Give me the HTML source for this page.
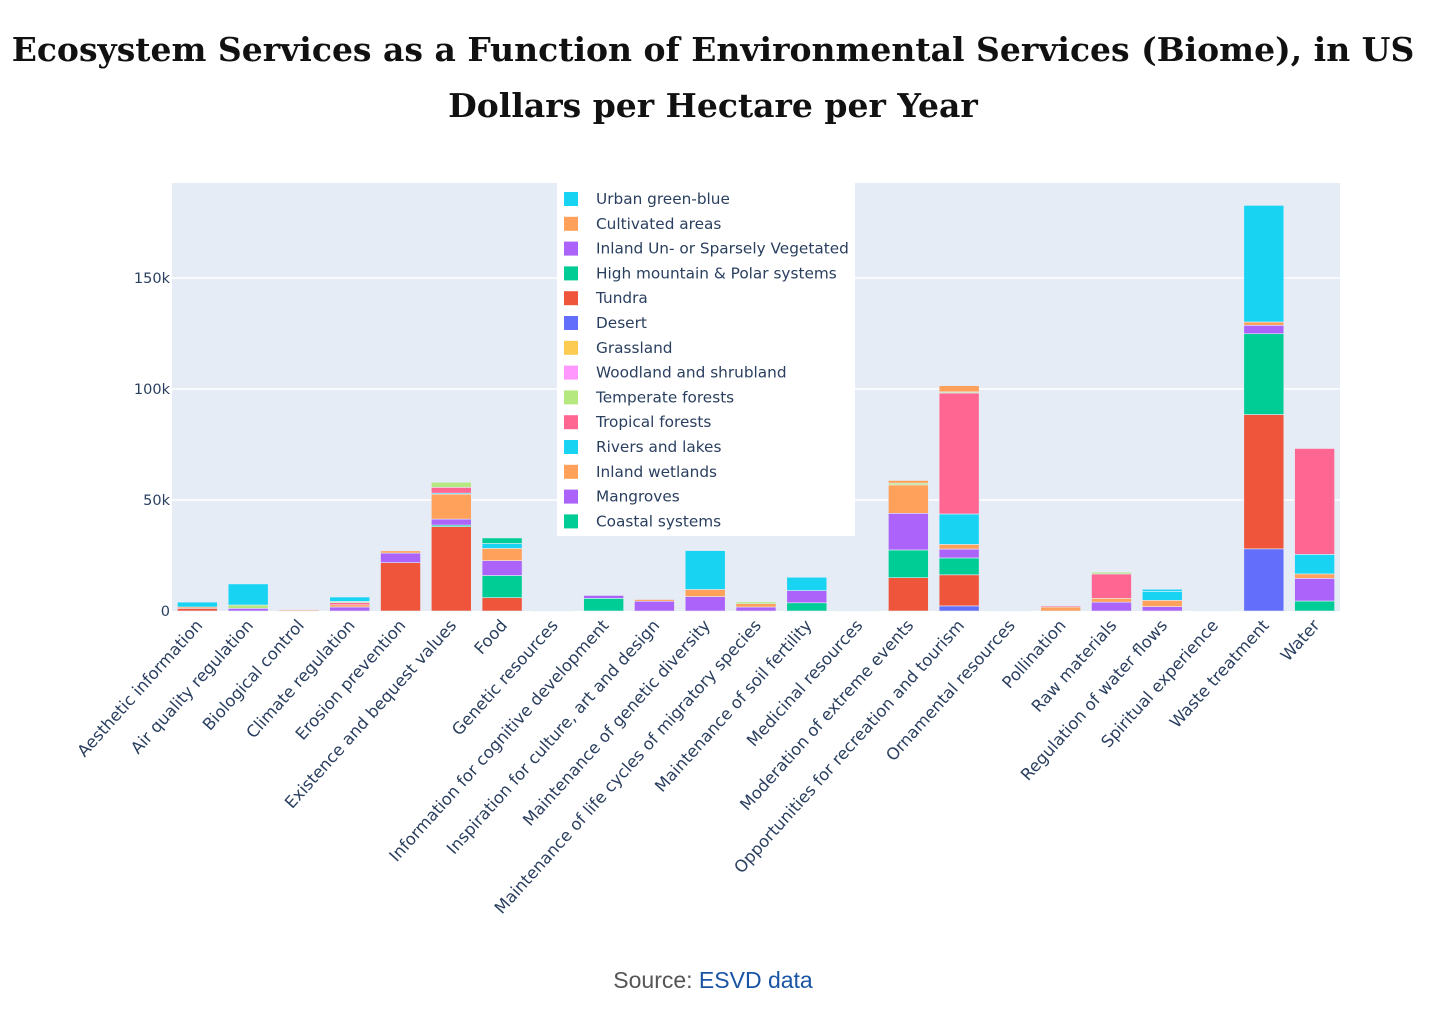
<!DOCTYPE html>
<html><head><meta charset="utf-8">
<style>
body{margin:0;background:#fff;width:1450px;height:1036px;overflow:hidden;}
#title{position:absolute;left:0;top:22px;width:1426px;text-align:center;font-family:"DejaVu Serif","Liberation Serif",serif;font-weight:bold;font-size:33px;line-height:56px;color:#111;white-space:nowrap;}
#source{position:absolute;left:0;top:967px;width:1426px;text-align:center;font-family:"Liberation Sans",sans-serif;font-size:23px;color:#555;}
#source a{color:#1a55a5;text-decoration:none;}
</style></head><body>
<div id="title">Ecosystem Services as a Function of Environmental Services (Biome), in US<br>Dollars per Hectare per Year</div>
<svg id="chart" width="1450" height="1036" style="position:absolute;left:0;top:0"></svg>
<div id="source">Source: <a>ESVD data</a></div>
<script>
const categories=["Aesthetic information","Air quality regulation","Biological control","Climate regulation","Erosion prevention","Existence and bequest values","Food","Genetic resources","Information for cognitive development","Inspiration for culture, art and design","Maintenance of genetic diversity","Maintenance of life cycles of migratory species","Maintenance of soil fertility","Medicinal resources","Moderation of extreme events","Opportunities for recreation and tourism","Ornamental resources","Pollination","Raw materials","Regulation of water flows","Spiritual experience","Waste treatment","Water"];
// values in thousands of USD, stacked bottom to top in this order
const seriesNames=["Desert","Tundra","Coastal systems","Mangroves","Inland wetlands","Rivers and lakes","Tropical forests","Temperate forests","Woodland and shrubland","Grassland","High mountain & Polar systems","Inland Un- or Sparsely Vegetated","Cultivated areas","Urban green-blue"];
const seriesColors=["#636EFA","#EF553B","#00CC96","#AB63FA","#FFA15A","#19D3F3","#FF6692","#B6E880","#FF97FF","#FECB52","#00CC96","#AB63FA","#FFA15A","#19D3F3"];
const desert   =[0,0,0,0,0,0,0,0,0,0,0,0,0,0,0,2.3,0,0,0,0,0,28,0];
const tundra   =[1.2,0,0,0,21.8,38,6,0,0,0,0,0,0,0,15,14,0,0,0,0,0,60.5,0];
const coastal  =[0,0,0,0,0,0.7,10,0.2,5.7,0,0,0,3.7,0,12.5,7.6,0,0,0,0,0,0,4.5];
const mangroves=[0,1.2,0,1.8,0,2.7,6.7,0,1.3,4.4,6.5,1.8,5.5,0,16.5,4,0,0,4,2,0,0,10.2];
const wetlands =[0.6,0,0.5,1,0,11.2,5.5,0,0,0.8,3.2,1.5,0,0.2,12.8,2.1,0.2,1.8,1.7,2.8,0.2,0,2];
const rivers   =[2.2,0,0,0,0,0.5,2.2,0,0,0,17.5,0,6,0,0,13.7,0,0,0,4,0,0,8.8];
const tropical =[0,0,0.3,1,0,2.6,0,0,0,0.3,0,0,0,0,0,54.5,0,0.5,11,0,0,0,47.7];
const temperate=[0,1.5,0,0.5,0,2.3,0,0,0,0,0,0.8,0,0,0.8,0.5,0,0,0.8,0,0,0,0];
const woodland =[0,0,0,0,0,0,0,0,0,0,0,0,0,0,0,0,0,0,0,0,0,0,0];
const grassland=[0,0,0,0,0,0,0,0,0,0,0,0,0,0,0,0,0,0,0,0,0,0,0];
const highMtn  =[0,0,0,0,0,0,2.5,0,0,0,0,0,0,0,0,0,0,0,0,0,0,36.4,0];
const inlandUn =[0,0,0,0,4.3,0,0,0,0,0,0,0,0,0,0,0,0,0,0,0,0,3.8,0];
const cultivated=[0,0,0,0,1,0,0,0,0,0,0,0,0,0,1.2,2.8,0,0,0,0,0,1.5,0];
const urban    =[0,9.5,0,2,0,0,0,0,0,0,0,0,0,0,0,0,0,0,0,1,0,52.5,0];
const seriesValues=[desert,tundra,coastal,mangroves,wetlands,rivers,tropical,temperate,woodland,grassland,highMtn,inlandUn,cultivated,urban];
const yTicks=[0,50,100,150];
const yTickLabels=["0","50k","100k","150k"];
const legendOrder=["Urban green-blue","Cultivated areas","Inland Un- or Sparsely Vegetated","High mountain & Polar systems","Tundra","Desert","Grassland","Woodland and shrubland","Temperate forests","Tropical forests","Rivers and lakes","Inland wetlands","Mangroves","Coastal systems"];
const legendColors=["#19D3F3","#FFA15A","#AB63FA","#00CC96","#EF553B","#636EFA","#FECB52","#FF97FF","#B6E880","#FF6692","#19D3F3","#FFA15A","#AB63FA","#00CC96"];

const NS="http://www.w3.org/2000/svg";
const svg=document.getElementById('chart');
const PL=172,PR=1340,PT=183,PB=611;
const y=v=>PB-v*2.22;
const band=(PR-PL)/categories.length;
const x=i=>PL+band*(i+0.5);
const barW=40;
function mk(tag,attrs){const e=document.createElementNS(NS,tag);for(const k in attrs)e.setAttribute(k,attrs[k]);svg.appendChild(e);return e;}
const bg=mk('rect',{x:PL,y:PT,width:PR-PL,height:PB-PT,fill:'#E5ECF6'});


yTicks.forEach((t,i)=>{
  if(t>0){const g=mk('line',{x1:PL,x2:PR,y1:y(t),y2:y(t),stroke:'#fff','stroke-width':1.5});
  
  }
  const tl=mk('text',{x:PL-2,y:y(t)+5,'text-anchor':'end','font-family':'DejaVu Sans, sans-serif','font-size':14.5,fill:'#2a3f5f'});
  tl.textContent=yTickLabels[i];
  
  
});
categories.forEach((c,i)=>{
  let base=0;
  seriesValues.forEach((arr,s)=>{
    const v=arr[i]; if(!v) return;
    const r=mk('rect',{x:x(i)-barW/2,y:y(base+v),width:barW,height:v*2.22,fill:seriesColors[s],stroke:'#E5ECF6','stroke-width':0.6});
    
    
    base+=v;
  });
  const tx=x(i)+6, ty=PB+15;
  const t=mk('text',{x:tx,y:ty,'text-anchor':'end','font-family':'DejaVu Sans, sans-serif','font-size':16.5,fill:'#2a3f5f',transform:`rotate(-48 ${tx} ${ty})`});
  t.textContent=c;
  
  
});
const lg=mk('rect',{x:557,y:183,width:298,height:353,fill:'#fff'});


legendOrder.forEach((n,i)=>{
  const yy=199+i*24.8;
  const sw=mk('rect',{x:564,y:yy-7,width:14,height:14,fill:legendColors[i]});
  
  
  const t=mk('text',{x:596,y:yy+5,'font-family':'DejaVu Sans, sans-serif','font-size':15.3,fill:'#2a3f5f'});
  t.textContent=n;
  
  
});
</script>
</body></html>
